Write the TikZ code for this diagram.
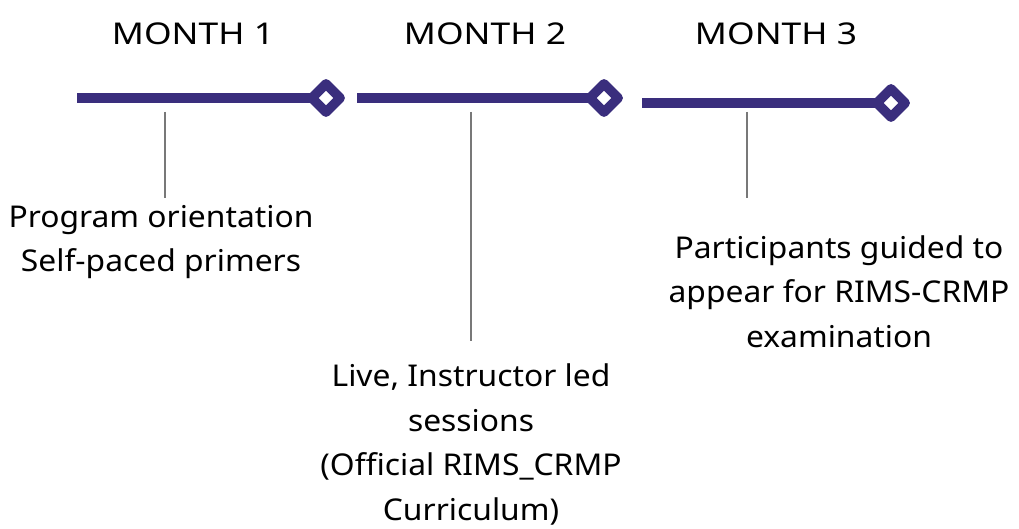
\documentclass[tikz,border=0pt]{standalone}
\usepackage{fontspec}
\setmainfont{Noto Sans}[FakeStretch=1.06]
\newfontfamily\titlefont{Noto Sans}[FakeStretch=1.18]
\usetikzlibrary{shapes.geometric}
\definecolor{tlpurple}{RGB}{58,46,125}
\definecolor{tlgray}{RGB}{120,120,120}
\tikzset{
  bar/.style={draw=tlpurple, line width=10pt, line cap=butt},
  milestone/.style={shape=diamond, draw=tlpurple, line width=9.5pt, line join=round,
    fill=white, inner sep=0pt, outer sep=0pt, minimum width=28.4pt, minimum height=28.4pt},
  tick/.style={draw=tlgray, line width=2pt},
  title/.style={anchor=base, font=\titlefont\fontsize{30}{44.5}\selectfont, inner sep=0pt},
  desc/.style={anchor=base, align=center, font=\fontsize{30}{44.5}\selectfont, inner sep=0pt},
}
\begin{document}
\begin{tikzpicture}[x=1pt,y=-1pt]
\useasboundingbox[fill=white] (0,0) rectangle (1019,529);
% titles
\node[title] (t1) at (193,45) {MONTH 1};
\node[title] (t2) at (485,45) {MONTH 2};
\node[title] (t3) at (776,45) {MONTH 3};
% timeline
\coordinate (s1) at (77,98);
\coordinate (s2) at (357,98);
\coordinate (s3) at (642,103);
\node[milestone] (d1) at (326,98) {};
\node[milestone] (d2) at (604,98) {};
\node[milestone] (d3) at (891,103) {};
\draw[bar] (s1) -- (d1.west);
\draw[bar] (s2) -- (d2.west);
\draw[bar] (s3) -- (d3.west);
% ticks
\coordinate (a1) at (165,112); \coordinate (b1) at (165,198);
\coordinate (a2) at (471,112); \coordinate (b2) at (471,341);
\coordinate (a3) at (747,112); \coordinate (b3) at (747,198);
\draw[tick] (a1) -- (b1);
\draw[tick] (a2) -- (b2);
\draw[tick] (a3) -- (b3);
% descriptions (anchor = baseline of last line)
\node[desc] (x1) at (161,272) {Program orientation\\Self-paced primers};
\node[desc] (x2) at (471,520) {Live, Instructor led\\sessions\\(Official RIMS\_CRMP\\Curriculum)};
\node[desc] (x3) at (839,347) {Participants guided to\\appear for RIMS-CRMP\\examination};
\end{tikzpicture}
\end{document}
